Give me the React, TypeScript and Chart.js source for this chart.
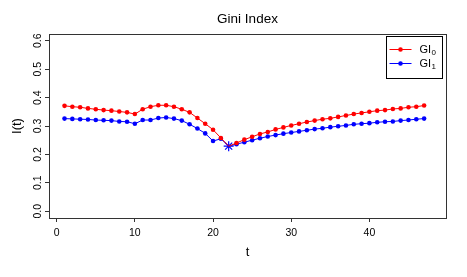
import React, { useEffect, useRef } from 'react';
import { Chart, registerables } from 'chart.js';

Chart.register(...registerables);

// ---- data ----
const tValues = [
  1, 2, 3, 4, 5, 6, 7, 8, 9, 10, 11, 12, 13, 14, 15, 16, 17, 18, 19, 20, 21, 22, 23, 24,
  25, 26, 27, 28, 29, 30, 31, 32, 33, 34, 35, 36, 37, 38, 39, 40, 41, 42, 43, 44, 45, 46, 47,
];
const gi0 = [
  0.371, 0.368, 0.366, 0.362, 0.359, 0.356, 0.354, 0.351, 0.348, 0.342,
  0.359, 0.368, 0.373, 0.373, 0.368, 0.359, 0.348, 0.328, 0.308, 0.287,
  0.258, 0.229, 0.240, 0.252, 0.262, 0.272, 0.279, 0.288, 0.295, 0.302,
  0.308, 0.314, 0.319, 0.324, 0.327, 0.332, 0.337, 0.342, 0.346, 0.350,
  0.354, 0.356, 0.360, 0.362, 0.366, 0.368, 0.372,
];
const gi1 = [
  0.326, 0.325, 0.324, 0.323, 0.321, 0.320, 0.319, 0.316, 0.315, 0.308,
  0.321, 0.321, 0.328, 0.330, 0.326, 0.319, 0.306, 0.291, 0.274, 0.247,
  0.255, 0.229, 0.236, 0.243, 0.250, 0.257, 0.263, 0.268, 0.273, 0.277,
  0.281, 0.285, 0.289, 0.292, 0.296, 0.299, 0.302, 0.306, 0.308, 0.310,
  0.313, 0.315, 0.316, 0.319, 0.321, 0.324, 0.326,
];
const changePointT = 22;
const xTickValues = [0, 10, 20, 30, 40];
const yTickValues = [0, 0.1, 0.2, 0.3, 0.4, 0.5, 0.6];
const titleText = 'Gini Index';
const xTitle = 't';
const yTitle = 'I(t)';
const legendBase = 'GI';
const legendSubs = ['0', '1'];
const seriesColors = ['#ff0000', '#0000ff'];

const FONT = "'Liberation Sans', Arial, Helvetica, sans-serif";

const boxLegendPlugin = {
  id: 'boxLegend',
  afterDraw(chart: any) {
    const { ctx, chartArea: a } = chart;
    ctx.save();
    // plot box
    ctx.strokeStyle = '#333';
    ctx.lineWidth = 1;
    ctx.strokeRect(a.left + 0.5, a.top + 0.5, a.right - a.left, a.bottom - a.top);
    // legend
    const lw = 56;
    const lh = 42;
    const lx = Math.round(a.right - 4 - lw) + 0.5;
    const ly = Math.round(a.top + 2) + 0.5;
    ctx.fillStyle = '#fff';
    ctx.fillRect(lx, ly, lw, lh);
    ctx.strokeStyle = '#000';
    ctx.strokeRect(lx, ly, lw, lh);
    chart.data.datasets.slice(0, 2).forEach((ds: any, i: number) => {
      const y = ly + 13 + i * 14;
      const col = seriesColors[i];
      ctx.strokeStyle = col;
      ctx.lineWidth = 1;
      ctx.beginPath();
      ctx.moveTo(lx + 3, y);
      ctx.lineTo(lx + 25, y);
      ctx.stroke();
      ctx.fillStyle = col;
      ctx.beginPath();
      ctx.arc(lx + 14, y, 2.3, 0, Math.PI * 2);
      ctx.fill();
      ctx.fillStyle = '#000';
      ctx.font = `11px ${FONT}`;
      ctx.textBaseline = 'middle';
      ctx.textAlign = 'left';
      const tx = lx + 33;
      ctx.fillText(legendBase, tx, y);
      const w = ctx.measureText(legendBase).width;
      ctx.font = `8px ${FONT}`;
      ctx.fillText(legendSubs[i], tx + w + 0.5, y + 3.5);
    });
    ctx.restore();
  },
};

export default function App() {
  const ref = useRef<HTMLCanvasElement | null>(null);
  useEffect(() => {
    if (!ref.current) return;
    const starIdx = tValues.indexOf(changePointT);
    const chart = new Chart(ref.current, {
      type: 'line',
      data: {
        datasets: [
          {
            label: legendBase + legendSubs[0],
            data: tValues.map((t, i) => ({ x: t, y: gi0[i] })),
            borderColor: seriesColors[0],
            backgroundColor: seriesColors[0],
            borderWidth: 1,
            pointRadius: (c: any) => (c.dataIndex === starIdx ? 0 : 2.3),
            pointBorderWidth: 0,
            pointHoverRadius: 0,
          },
          {
            label: legendBase + legendSubs[1],
            data: tValues.map((t, i) => ({ x: t, y: gi1[i] })),
            borderColor: seriesColors[1],
            backgroundColor: seriesColors[1],
            borderWidth: 1,
            pointStyle: (c: any) => (c.dataIndex === starIdx ? 'star' : 'circle'),
            pointRadius: (c: any) => (c.dataIndex === starIdx ? 5 : 2.3),
            pointBorderWidth: (c: any) => (c.dataIndex === starIdx ? 1.2 : 0),
            pointBorderColor: seriesColors[1],
            pointHoverRadius: 0,
          },
        ],
      },
      options: {
        animation: false,
        responsive: false,
        devicePixelRatio: 1,
        events: [],
        layout: { padding: { left: 0, right: 21, top: 0, bottom: 0 } },
        elements: { line: { tension: 0 } },
        plugins: {
          legend: { display: false },
          tooltip: { enabled: false },
          title: {
            display: true,
            text: titleText,
            fullSize: false,
            color: '#000',
            font: { family: FONT, size: 13.5, weight: 'normal', lineHeight: 1.2 },
            padding: { top: 11, bottom: 6.8 },
          },
        },
        scales: {
          x: {
            type: 'linear',
            min: -0.985,
            max: 49.8,
            afterFit: (s: any) => { s.height = 59; },
            afterBuildTicks: (s: any) => { s.ticks = xTickValues.map((v) => ({ value: v })); },
            grid: { display: true, drawOnChartArea: false, drawTicks: true, tickLength: 4, color: '#333', tickWidth: 1 },
            border: { display: false },
            ticks: {
              color: '#000',
              font: { family: FONT, size: 10.5, lineHeight: 1.2 },
              padding: 4.5,
              maxRotation: 0,
              minRotation: 0,
              callback: (v: any) => String(v),
            },
            title: {
              display: true,
              text: xTitle,
              color: '#000',
              font: { family: FONT, size: 13, lineHeight: 1.2 },
              padding: { top: 0, bottom: 16.5 },
            },
          },
          y: {
            type: 'linear',
            min: -0.024,
            max: 0.624,
            afterFit: (s: any) => { s.width = 49; },
            afterBuildTicks: (s: any) => { s.ticks = yTickValues.map((v) => ({ value: v })); },
            grid: { display: true, drawOnChartArea: false, drawTicks: true, tickLength: 4, color: '#333', tickWidth: 1 },
            border: { display: false },
            ticks: {
              color: '#000',
              font: { family: FONT, size: 10.5, lineHeight: 1.2 },
              padding: 0,
              minRotation: 90,
              maxRotation: 90,
              crossAlign: 'center',
              callback: (v: any) => Number(v).toFixed(1),
            },
            title: {
              display: true,
              text: yTitle,
              color: '#000',
              font: { family: FONT, size: 13, lineHeight: 1.2 },
              padding: { top: 10, bottom: 0 },
            },
          },
        },
      },
      plugins: [boxLegendPlugin],
    } as any);
    return () => chart.destroy();
  }, []);
  return (
    <div style={{ position: 'absolute', left: 0, top: 0, width: 467, height: 277, background: '#fff' }}>
      <canvas ref={ref} width={467} height={277} style={{ display: 'block', width: 467, height: 277 }} />
    </div>
  );
}
